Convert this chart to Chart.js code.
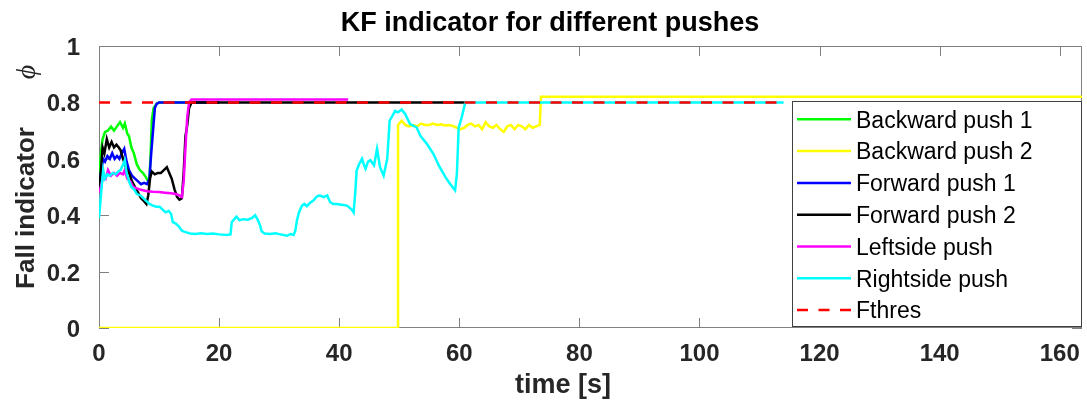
<!DOCTYPE html>
<html lang="en">
<head>
  <meta charset="UTF-8">
  <title>KF indicator</title>
  <script src="https://cdn.jsdelivr.net/npm/chart.js"></script>
  <style>
    body { margin: 0; background: #fff; }
    canvas { display: block; }
  </style>
</head>
<body>
  <canvas id="kf" width="1087" height="402"></canvas>

  <script>
    // time [s] and fall indicator for each push
    const backward1T = [0, 0.3, 0.6, 1.0, 1.5, 2.0, 2.5, 3.0, 3.5, 4.0,
                        4.3, 4.7, 5.0, 5.4, 5.8, 6.3, 6.8, 7.3, 7.8, 8.2,
                        8.4, 8.6, 8.8, 9.1, 9.6, 10.0, 20];
    const backward1V = [0.50, 0.62, 0.67, 0.695, 0.70, 0.714, 0.70, 0.715, 0.73, 0.71,
                        0.725, 0.69, 0.68, 0.64, 0.62, 0.58, 0.56, 0.55, 0.535, 0.52,
                        0.53, 0.62, 0.74, 0.78, 0.795, 0.80, 0.80];

    const backward2T = [0, 49.8, 49.8, 50.4, 51.0, 51.6, 52.4, 53.0, 53.6, 54.3,
                        55.0, 55.6, 56.3, 57.0, 57.6, 58.3, 59.0, 59.6, 60.2, 60.8,
                        61.4, 62.0, 62.6, 63.2, 63.8, 64.4, 65.0, 65.6, 66.2, 66.8,
                        67.4, 68.0, 68.6, 69.2, 69.8, 70.4, 71.0, 71.6, 72.2, 72.8,
                        73.4, 73.6, 164];
    const backward2V = [0, 0, 0.72, 0.735, 0.72, 0.715, 0.72, 0.715, 0.725, 0.72,
                        0.72, 0.725, 0.72, 0.722, 0.718, 0.72, 0.716, 0.71, 0.705, 0.71,
                        0.72, 0.725, 0.715, 0.72, 0.705, 0.73, 0.715, 0.71, 0.72, 0.705,
                        0.695, 0.715, 0.72, 0.705, 0.72, 0.715, 0.705, 0.72, 0.71, 0.715,
                        0.72, 0.82, 0.82];

    const forward1T = [0, 0.3, 0.7, 1.0, 1.4, 1.8, 2.2, 2.6, 3.0, 3.4,
                       3.8, 4.2, 4.6, 5.0, 5.5, 6.0, 6.5, 7.0, 7.5, 8.0,
                       8.4, 8.7, 9.0, 9.3, 9.6, 10.0, 20];
    const forward1V = [0.49, 0.55, 0.60, 0.59, 0.61, 0.60, 0.62, 0.60, 0.61, 0.60,
                       0.62, 0.635, 0.59, 0.56, 0.54, 0.53, 0.52, 0.51, 0.515, 0.51,
                       0.53, 0.62, 0.70, 0.78, 0.795, 0.80, 0.80];

    const forward2T = [0, 0.3, 0.6, 0.9, 1.3, 1.7, 2.1, 2.5, 2.9, 3.3,
                       3.6, 4.0, 4.5, 5.0, 5.5, 6.0, 6.5, 7.0, 7.5, 7.9,
                       8.2, 8.5, 8.8, 9.3, 9.8, 10.3, 10.8, 11.3, 11.7, 12.1,
                       12.6, 13.0, 13.4, 13.8, 14.1, 14.4, 14.7, 15.0, 15.4, 61];
    const forward2V = [0.48, 0.55, 0.64, 0.62, 0.67, 0.64, 0.66, 0.64, 0.65, 0.64,
                       0.63, 0.60, 0.57, 0.55, 0.52, 0.50, 0.48, 0.46, 0.45, 0.44,
                       0.47, 0.53, 0.555, 0.545, 0.55, 0.55, 0.56, 0.57, 0.55, 0.53,
                       0.49, 0.465, 0.455, 0.46, 0.55, 0.68, 0.72, 0.78, 0.80, 0.80];

    const leftT = [0, 0.3, 0.7, 1.1, 1.5, 2.0, 2.5, 3.0, 3.5, 4.0,
                   4.3, 4.7, 5.2, 5.7, 6.3, 7.0, 8.0, 9.0, 10.0, 11.0,
                   12.0, 12.8, 13.4, 13.8, 14.1, 14.4, 14.7, 15.0, 15.4, 41.5];
    const leftV = [0.48, 0.50, 0.54, 0.53, 0.56, 0.54, 0.55, 0.54, 0.55, 0.545,
                   0.56, 0.53, 0.52, 0.50, 0.495, 0.49, 0.485, 0.483, 0.482, 0.48,
                   0.478, 0.475, 0.47, 0.465, 0.52, 0.64, 0.75, 0.80, 0.81, 0.81];

    const rightT = [0, 0.4, 0.7, 1.0, 1.4, 1.8, 2.3, 2.8, 3.2, 3.6,
                    4.0, 4.3, 4.6, 5.0, 5.4, 5.9, 6.3, 6.9, 7.4, 7.9,
                    8.4, 8.9, 9.5, 10.1, 10.6, 11.1, 11.6, 12.0, 12.3, 12.8,
                    13.3, 13.8, 14.4, 15.2, 16.0, 17.0, 18.0, 19.0, 20.0, 21.3,
                    21.9, 22.1, 22.5, 22.9, 23.4, 24.0, 24.8, 25.5, 26.0, 26.4,
                    26.8, 27.1, 27.6, 28.5, 29.4, 30.2, 31.3, 31.9, 32.4, 32.7,
                    32.95, 33.3, 33.8, 34.2, 34.6, 35.2, 35.7, 36.2, 36.6, 37.0,
                    37.4, 38.0, 38.5, 39.0, 39.6, 40.4, 41.3, 42.1, 42.4, 42.7,
                    42.9, 43.3, 43.8, 44.1, 44.4, 44.8, 45.2, 45.8, 46.3, 46.8,
                    47.4, 48.0, 48.4, 48.8, 49.3, 49.8, 50.4, 51.0, 51.8, 52.9,
                    53.5, 54.6, 55.7, 56.6, 57.7, 58.5, 59.3, 59.6, 59.9, 60.4,
                    61.0, 114];
    const rightV = [0.39, 0.49, 0.56, 0.53, 0.545, 0.54, 0.55, 0.545, 0.555, 0.56,
                    0.58, 0.595, 0.55, 0.52, 0.50, 0.49, 0.475, 0.47, 0.46, 0.45,
                    0.44, 0.435, 0.43, 0.43, 0.42, 0.41, 0.415, 0.405, 0.375, 0.37,
                    0.36, 0.345, 0.34, 0.335, 0.333, 0.336, 0.333, 0.335, 0.332, 0.33,
                    0.332, 0.375, 0.385, 0.395, 0.382, 0.386, 0.384, 0.39, 0.40, 0.385,
                    0.365, 0.342, 0.335, 0.333, 0.336, 0.332, 0.327, 0.333, 0.33, 0.345,
                    0.38, 0.41, 0.434, 0.44, 0.432, 0.445, 0.452, 0.465, 0.47, 0.468,
                    0.464, 0.47, 0.446, 0.44, 0.44, 0.437, 0.434, 0.42, 0.41, 0.488,
                    0.558, 0.58, 0.60, 0.58, 0.565, 0.59, 0.595, 0.577, 0.635, 0.57,
                    0.54, 0.60, 0.735, 0.75, 0.77, 0.765, 0.775, 0.758, 0.723, 0.711,
                    0.682, 0.653, 0.617, 0.576, 0.535, 0.51, 0.488, 0.547, 0.711, 0.747,
                    0.80, 0.80];

    const thresT = [0, 114];
    const thresV = [0.8, 0.8];

    const seriesNames = ['Backward push 1', 'Backward push 2', 'Forward push 1',
                         'Forward push 2', 'Leftside push', 'Rightside push', 'Fthres'];
    const seriesColors = ['#00ff00', '#ffff00', '#0000ff', '#000000', '#ff00ff', '#00ffff', '#ff0000'];

    const timeTicks = [0, 20, 40, 60, 80, 100, 120, 140, 160];
    const fallTicks = [0, 0.2, 0.4, 0.6, 0.8, 1];
    const fallTickLabels = ['0', '0.2', '0.4', '0.6', '0.8', '1'];

    const FONT = '"Liberation Sans", Arial, Helvetica, sans-serif';
    const AXIS_GRAY = '#808080';
    const TEXT = '#262626';
    const DASH = [11, 10.5];

    function toPoints(ts, vs) {
      return ts.map((t, i) => ({ x: t, y: vs[i] }));
    }

    const seriesData = [
      toPoints(backward1T, backward1V),
      toPoints(backward2T, backward2V),
      toPoints(forward1T, forward1V),
      toPoints(forward2T, forward2V),
      toPoints(leftT, leftV),
      toPoints(rightT, rightV),
      toPoints(thresT, thresV)
    ];

    const datasets = seriesData.map((data, i) => ({
      label: seriesNames[i],
      data,
      borderColor: seriesColors[i],
      borderWidth: 2.5,
      borderDash: i === 6 ? DASH : [],
      pointRadius: 0,
      tension: 0,
      fill: false,
      order: seriesData.length - i  // later series drawn on top
    }));

    // box, inward ticks, labels, titles and the legend
    const matlabAxes = {
      id: 'matlabAxes',
      beforeDraw(chart) {
        const ctx = chart.ctx;
        ctx.save();
        ctx.fillStyle = '#fff';
        ctx.fillRect(0, 0, chart.width, chart.height);
        ctx.restore();
      },
      beforeDatasetsDraw(chart) {
        const { ctx, chartArea: a, scales: { x, y } } = chart;
        ctx.save();
        ctx.strokeStyle = AXIS_GRAY;
        ctx.lineWidth = 1;
        ctx.strokeRect(Math.round(a.left) + 0.5, Math.round(a.top) + 0.5,
                       Math.round(a.width) - 1, Math.round(a.height) - 1);
        ctx.beginPath();
        timeTicks.forEach(t => {
          const px = Math.round(x.getPixelForValue(t)) + 0.5;
          ctx.moveTo(px, a.bottom); ctx.lineTo(px, a.bottom - 10);
          ctx.moveTo(px, a.top); ctx.lineTo(px, a.top + 10);
        });
        fallTicks.forEach(v => {
          const py = Math.round(y.getPixelForValue(v)) + 0.5;
          ctx.moveTo(a.left, py); ctx.lineTo(a.left + 10, py);
          ctx.moveTo(a.right, py); ctx.lineTo(a.right - 10, py);
        });
        ctx.stroke();
        ctx.restore();
      },
      afterDraw(chart) {
        const { ctx, chartArea: a, scales: { x, y } } = chart;
        ctx.save();
        ctx.fillStyle = TEXT;

        // tick labels
        ctx.font = 'bold 24px ' + FONT;
        ctx.textAlign = 'center';
        ctx.textBaseline = 'alphabetic';
        timeTicks.forEach(t => ctx.fillText(String(t), x.getPixelForValue(t), 361));
        ctx.textAlign = 'right';
        fallTicks.forEach((v, i) => ctx.fillText(fallTickLabels[i], 80, y.getPixelForValue(v) + 9));

        // titles
        ctx.fillStyle = '#000';
        ctx.textAlign = 'center';
        ctx.font = 'bold 27px ' + FONT;
        ctx.fillText('KF indicator for different pushes', 550, 31);
        ctx.fillStyle = TEXT;
        ctx.fillText('time [s]', 563, 393);

        ctx.save();
        ctx.translate(34, 208);
        ctx.rotate(-Math.PI / 2);
        ctx.font = 'bold 26px ' + FONT;
        ctx.fillText('Fall indicator', 0, 0);
        ctx.restore();

        ctx.save();
        ctx.translate(28, 72);
        ctx.rotate(-Math.PI / 2);
        ctx.font = 'italic 28px "Liberation Serif", "DejaVu Serif", serif';
        ctx.textBaseline = 'middle';
        ctx.fillText('\u03D5', 0, 0);
        ctx.restore();

        // legend
        const lx = 792, ly = 101, lw = 290, lh = 226;
        ctx.fillStyle = '#fff';
        ctx.fillRect(lx, ly, lw, lh);
        ctx.strokeStyle = '#404040';
        ctx.lineWidth = 1;
        ctx.strokeRect(lx + 0.5, ly + 0.5, lw - 1, lh - 1);
        ctx.font = '23px ' + FONT;
        ctx.textAlign = 'left';
        seriesNames.forEach((name, i) => {
          const cy = 119.3 + i * 31.8;
          ctx.strokeStyle = seriesColors[i];
          ctx.lineWidth = 2.5;
          ctx.setLineDash(i === 6 ? DASH : []);
          ctx.beginPath();
          ctx.moveTo(797, cy);
          ctx.lineTo(851, cy);
          ctx.stroke();
          ctx.setLineDash([]);
          ctx.fillStyle = '#000';
          ctx.fillText(name, 856, cy + 8.2);
        });
        ctx.restore();
      }
    };

    new Chart(document.getElementById('kf'), {
      type: 'line',
      data: { datasets },
      options: {
        responsive: false,
        animation: false,
        layout: { padding: { left: 99, right: 5, top: 46, bottom: 74 } },
        scales: {
          x: { type: 'linear', min: 0, max: 163.7, display: false },
          y: { type: 'linear', min: 0, max: 1, display: false }
        },
        plugins: {
          legend: { display: false },
          title: { display: false },
          tooltip: { enabled: false }
        }
      },
      plugins: [matlabAxes]
    });
  </script>
</body>
</html>
